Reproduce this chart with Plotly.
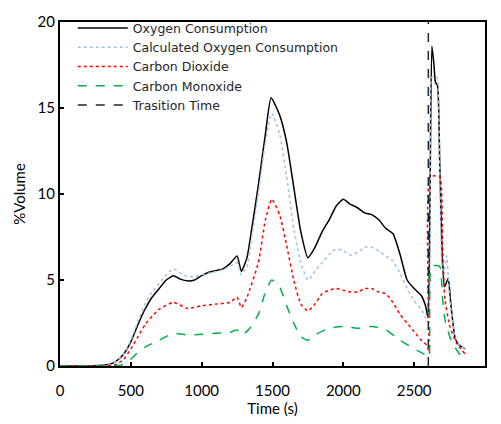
import plotly.graph_objects as go

# ---------------- data ----------------
o2_time = [0, 100, 200, 300, 350, 400, 450, 500, 550, 600, 650, 700, 750, 800, 850, 900, 950,
           1000, 1050, 1100, 1150, 1200, 1250, 1280, 1320, 1350, 1400, 1450, 1490, 1550, 1600,
           1650, 1700, 1750, 1800, 1850, 1900, 1950, 2000, 2050, 2100, 2150, 2200, 2250, 2300,
           2350, 2400, 2450, 2500, 2550, 2580, 2598, 2612, 2625, 2640, 2650, 2665, 2680, 2700,
           2715, 2740, 2760, 2790, 2820, 2860]
o2_vals = [0, 0, 0, 0.05, 0.1, 0.3, 0.7, 1.4, 2.4, 3.3, 4.0, 4.5, 5.0, 5.25, 5.05, 4.95, 5.0,
           5.25, 5.45, 5.55, 5.65, 5.95, 6.4, 5.5, 6.3, 7.8, 10.5, 13.5, 15.6, 14.6, 13.0,
           10.4, 7.8, 6.3, 6.9, 7.8, 8.5, 9.3, 9.7, 9.4, 9.2, 8.9, 8.8, 8.5, 8.0,
           7.7, 6.5, 5.0, 4.5, 4.1, 3.5, 2.8, 10.0, 18.6, 17.5, 16.5, 16.3, 12.0, 6.0,
           4.6, 5.1, 3.5, 1.6, 1.2, 1.0]

calc_time = [0, 100, 200, 300, 350, 400, 450, 500, 550, 600, 650, 700, 750, 800, 850, 900, 950,
             1000, 1050, 1100, 1150, 1200, 1250, 1280, 1320, 1350, 1400, 1450, 1495, 1550, 1600,
             1650, 1700, 1750, 1800, 1850, 1900, 1950, 2000, 2050, 2100, 2150, 2200, 2250, 2300,
             2350, 2400, 2450, 2500, 2550, 2590, 2605, 2615, 2625, 2660, 2675, 2695, 2710, 2730,
             2750, 2790, 2820, 2860]
calc_vals = [0, 0, 0, 0.05, 0.1, 0.3, 0.7, 1.5, 2.6, 3.6, 4.3, 4.8, 5.3, 5.65, 5.4, 5.2, 5.2,
             5.3, 5.4, 5.5, 5.6, 5.8, 6.0, 5.3, 5.8, 7.3, 10.0, 13.0, 14.7, 13.5, 11.0,
             8.0, 6.0, 5.0, 5.5, 6.0, 6.5, 6.8, 6.7, 6.45, 6.6, 6.9, 6.9, 6.7, 6.4,
             6.1, 5.4, 4.5, 3.8, 3.3, 2.7, 3.0, 12.0, 16.8, 16.8, 14.0, 6.0, 5.3, 6.4,
             4.0, 1.7, 1.2, 1.0]

co2_time = [0, 100, 200, 300, 350, 400, 450, 500, 550, 600, 650, 700, 800, 900, 1000, 1100,
            1200, 1250, 1280, 1320, 1400, 1450, 1495, 1550, 1600, 1650, 1700, 1750, 1800, 1850,
            1900, 1950, 2000, 2050, 2100, 2150, 2200, 2250, 2300, 2350, 2400, 2450, 2500, 2550,
            2590, 2602, 2612, 2680, 2700, 2717, 2752, 2800, 2860]
co2_vals = [0, 0, 0, 0, 0.02, 0.1, 0.4, 1.0, 1.7, 2.4, 2.9, 3.3, 3.7, 3.35, 3.5, 3.6,
            3.7, 4.0, 3.4, 4.0, 6.0, 8.5, 9.7, 8.8, 7.0, 5.0, 3.6, 3.2, 3.6, 4.2,
            4.4, 4.5, 4.4, 4.3, 4.3, 4.5, 4.5, 4.3, 4.2, 3.7, 3.0, 2.5, 2.0, 1.5,
            1.2, 0.9, 11.0, 11.0, 7.0, 3.9, 2.3, 1.3, 0.7]

co_time = [0, 100, 200, 300, 400, 450, 500, 550, 600, 700, 800, 900, 1000, 1100, 1200, 1250,
           1280, 1330, 1400, 1450, 1495, 1550, 1600, 1650, 1700, 1750, 1800, 1900, 2000, 2100,
           2200, 2300, 2400, 2500, 2590, 2605, 2623, 2680, 2700, 2717, 2765, 2820, 2865]
co_vals = [0, 0, 0, 0, 0.02, 0.1, 0.4, 0.8, 1.1, 1.5, 1.9, 1.8, 1.85, 1.9, 1.95, 2.1,
           1.8, 2.1, 3.0, 4.3, 5.0, 4.6, 3.5, 2.5, 1.7, 1.5, 1.8, 2.2, 2.3, 2.2,
           2.3, 2.1, 1.5, 1.0, 0.6, 0.5, 5.8, 5.8, 4.0, 2.7, 1.4, 0.7, 0.3]

transition_time = [2600, 2600]
transition_vals = [0, 20]

series_names = ["Oxygen Consumption", "Calculated Oxygen Consumption", "Carbon Dioxide",
                "Carbon Monoxide", "Trasition Time"]

x_ticks = [0, 500, 1000, 1500, 2000, 2500, 3000]
y_ticks = [0, 5, 10, 15, 20]

# ---------------- figure ----------------
FONT = "Lato"
LEG_FONT = "DejaVu Sans"
fig = go.Figure()
fig.add_trace(go.Scatter(x=o2_time, y=o2_vals, mode="lines", name=series_names[0],
                         line=dict(color="#000000", width=1.5, shape="spline", smoothing=0.5)))
fig.add_trace(go.Scatter(x=calc_time, y=calc_vals, mode="lines", name=series_names[1],
                         line=dict(color="#9DC3E6", width=1.5, dash="dot", shape="spline", smoothing=0.5)))
fig.add_trace(go.Scatter(x=co2_time, y=co2_vals, mode="lines", name=series_names[2],
                         line=dict(color="#FF0000", width=1.5, dash="dot", shape="spline", smoothing=0.5)))
fig.add_trace(go.Scatter(x=co_time, y=co_vals, mode="lines", name=series_names[3],
                         line=dict(color="#00B050", width=1.5, dash="dash", shape="spline", smoothing=0.5)))
fig.add_trace(go.Scatter(x=transition_time, y=transition_vals, mode="lines", name=series_names[4],
                         line=dict(color="#262626", width=1.5, dash="dash")))

axis_common = dict(showgrid=False, zeroline=False, showline=True, linecolor="#000000",
                   linewidth=2, mirror=True, ticks="inside", ticklen=4, tickwidth=2,
                   tickcolor="#000000", tickfont=dict(family=FONT, size=15, color="#000000"))

fig.update_layout(
    width=501, height=424,
    margin=dict(l=60, r=16, t=15, b=56),
    paper_bgcolor="white", plot_bgcolor="white",
    font=dict(family=FONT, size=15, color="#000000"),
    xaxis=dict(range=[0, 3000], tickvals=x_ticks, ticktext=[str(v) for v in x_ticks],
               ticklabelstandoff=10,
               title=dict(text="Time (s)", font=dict(family=FONT, size=15), standoff=2),
               **axis_common),
    yaxis=dict(range=[0, 20], tickvals=y_ticks, ticktext=[str(v) for v in y_ticks],
               title=dict(text="%Volume", font=dict(family=FONT, size=15), standoff=8),
               **axis_common),
    legend=dict(x=0.03, y=1.025, xanchor="left", yanchor="top", bgcolor="rgba(0,0,0,0)",
                font=dict(family=LEG_FONT, size=12.5, color="#262626"), tracegroupgap=0,
                itemwidth=50),
    showlegend=True,
)

fig.write_html("out.html")
